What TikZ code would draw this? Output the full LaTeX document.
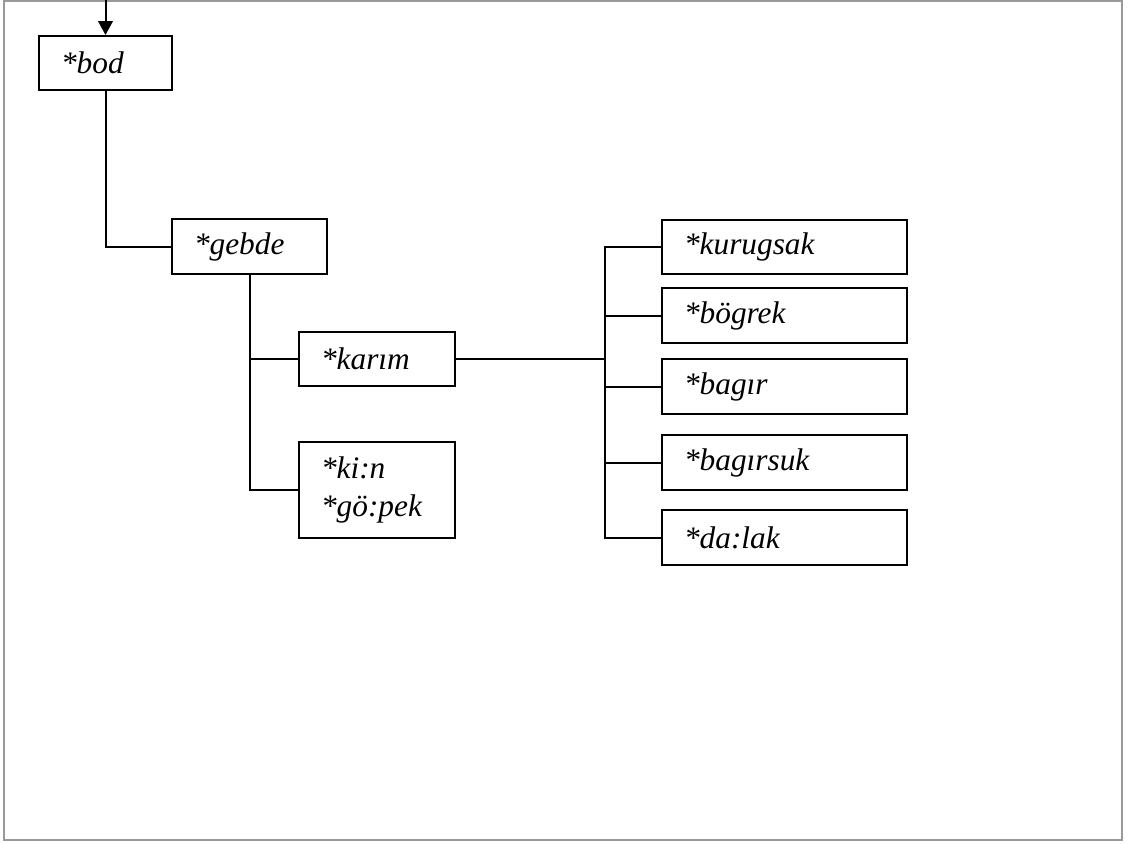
\documentclass[tikz,border=0pt]{standalone}
\usepackage{fontspec}
\setmainfont{Liberation Serif}
\usetikzlibrary{arrows.meta}
\begin{document}
\begin{tikzpicture}[x=0.75pt,y=-0.75pt,
  box/.style={draw, line width=1.5pt, anchor=north west, inner xsep=16.5pt,
    inner ysep=0pt, align=left, font=\fontsize{23.5}{28.5}\selectfont\itshape},
  link/.style={line width=1.5pt}]
\useasboundingbox (0,0) rectangle (1130,843);
\draw[line width=1.5pt, draw=black!40] (4,0.8) rectangle (1122,840);

\node[box, text width=66.75pt, minimum height=54*0.75pt] (bod) at (38,35) {*bod};
\node[box, text width=83.25pt, minimum height=55*0.75pt] (gebde) at (171,218) {*gebde};
\node[box, text width=84pt, minimum height=54*0.75pt] (karim) at (298,331) {*karım};
\node[box, text width=84pt, minimum height=96*0.75pt] (kin) at (298,441) {*ki:n\\\relax*gö:pek};

\node[box, text width=150.75pt, minimum height=54*0.75pt] (kurugsak) at (661,219) {*kurugsak};
\node[box, text width=150.75pt, minimum height=55*0.75pt] (bogrek) at (661,287) {*bögrek};
\node[box, text width=150.75pt, minimum height=55*0.75pt] (bagir) at (661,358) {*bagır};
\node[box, text width=150.75pt, minimum height=55*0.75pt] (bagirsuk) at (661,434) {*bagırsuk};
\node[box, text width=150.75pt, minimum height=55*0.75pt] (dalak) at (661,509) {*da:lak};

\coordinate (top) at (bod.north |- 0,0);
\coordinate (hub) at (605,0 |- karim.east);

\draw[link, -{Triangle[length=10.5pt,width=11pt]}] (top) -- (bod.north);
\draw[link] (bod.south) |- (gebde.west);
\draw[link] (gebde.south) |- (karim.west);
\draw[link] (gebde.south) |- (kin.west);
\draw[link] (karim.east) -- (hub);
\foreach \n in {kurugsak,bogrek,bagir,bagirsuk,dalak}
  \draw[link] (hub) |- (\n.west);
\end{tikzpicture}
\end{document}
